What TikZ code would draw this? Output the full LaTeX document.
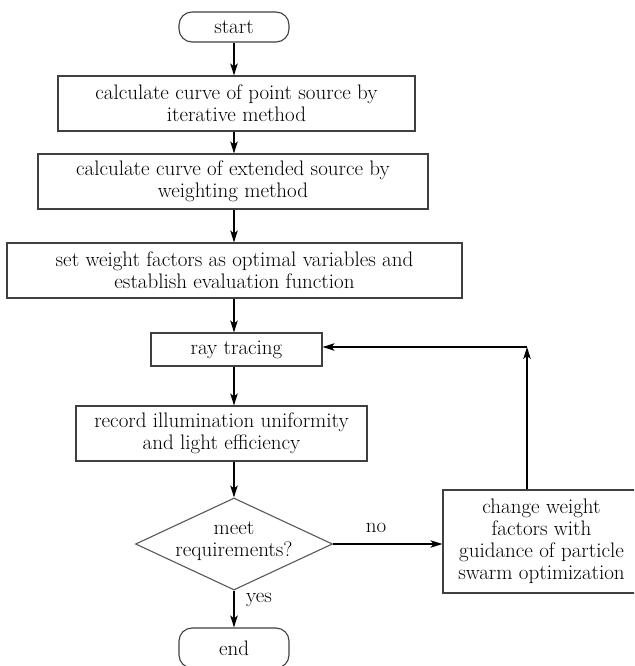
\documentclass[tikz,border=0pt]{standalone}
\usetikzlibrary{shapes.geometric,arrows.meta,calc}
\begin{document}
\begin{tikzpicture}[x=1pt,y=-1pt,
  every node/.style={font=\fontsize{21}{22}\selectfont, inner sep=0pt, align=center},
  box/.style={draw=black!75, line width=1.1pt, rectangle},
  term/.style={draw=black!75, line width=1.1pt, rectangle, rounded corners=13pt},
  arr/.style={draw=black, line width=1.3pt, -{Stealth[length=12pt,width=7.5pt,inset=3pt]}},
  lbl/.style={}]
\useasboundingbox (0,0) rectangle (634,666);
\clip (0,0) rectangle (634,666);
\fill[white] (0,0) rectangle (634,666);

\node[term, minimum width=110pt, minimum height=30pt] (start) at (234,27) {start};
\node[box, minimum width=357pt, minimum height=55pt] (b1) at (236.5,103.5)
  {calculate curve of point source by\\iterative method};
\node[box, minimum width=390pt, minimum height=55pt] (b2) at (233,181.5)
  {calculate curve of extended source by\\weighting method};
\node[box, minimum width=455pt, minimum height=55pt] (b3) at (234.5,270.5)
  {set weight factors as optimal variables and\\establish evaluation function};
\node[box, minimum width=171pt, minimum height=33pt] (ray) at (236.5,349.5) {ray tracing};
\node[box, minimum width=291pt, minimum height=55pt] (rec) at (221.5,433.5)
  {record illumination uniformity\\and light efficiency};
\node[diamond, draw=black!65, line width=1.1pt, minimum width=197pt, minimum height=92pt] (dec) at (234,544) {};
\node (dectext) at (234,541) {meet\\requirements?};
\node[box, minimum width=197pt, minimum height=103pt] (rb) at (541.5,541.5)
  {change weight\\factors with\\guidance of particle\\swarm optimization};
\node[term, minimum width=110pt, minimum height=40pt] (end) at (234,648) {end};

\node (no) at (376,528) {no};
\node (yes) at (259,600) {yes};

\coordinate (corner) at (527,347);

\draw[arr] (start.south) -- (start.south |- b1.north);
\draw[arr] (b1.south -| start.south) -- (start.south |- b2.north);
\draw[arr] (b2.south -| dec.north) -- (dec.north |- b3.north);
\draw[arr] (b3.south -| dec.north) -- (dec.north |- ray.north);
\draw[arr] (ray.south -| dec.north) -- (dec.north |- rec.north);
\draw[arr] (rec.south -| dec.north) -- (dec.north);
\draw[arr] (dec.south) -- (end.north);
\draw[arr] (dec.east) -- (dec.east -| rb.west);
\draw[arr] (rb.north -| corner) -- (corner);
\draw[arr] (corner) -- (ray.east |- corner);
\end{tikzpicture}
\end{document}
